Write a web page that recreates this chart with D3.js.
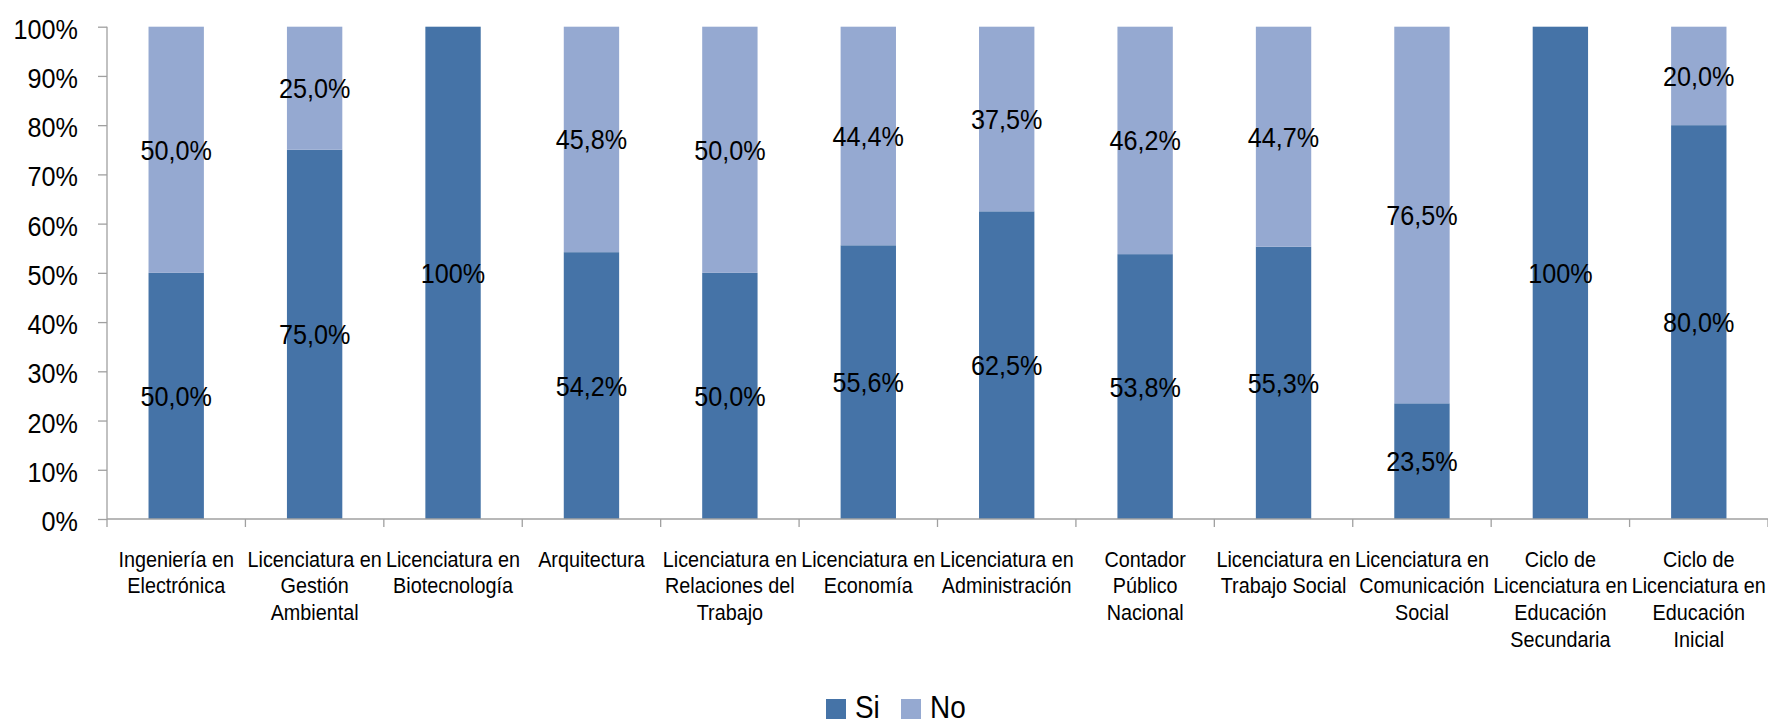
<!DOCTYPE html>
<html>
<head>
<meta charset="utf-8">
<script src="https://cdn.jsdelivr.net/npm/d3@7"></script>
<style>
  html, body { margin: 0; padding: 0; background: #fff; }
  svg { display: block; }
  text { font-family: "Liberation Sans", Arial, sans-serif; fill: #000; }
</style>
</head>
<body>
<svg id="chart" width="1768" height="725"></svg>
<script>
const categories = [
  "Ingeniería en\nElectrónica",
  "Licenciatura en\nGestión\nAmbiental",
  "Licenciatura en\nBiotecnología",
  "Arquitectura",
  "Licenciatura en\nRelaciones del\nTrabajo",
  "Licenciatura en\nEconomía",
  "Licenciatura en\nAdministración",
  "Contador\nPúblico\nNacional",
  "Licenciatura en\nTrabajo Social",
  "Licenciatura en\nComunicación\nSocial",
  "Ciclo de\nLicenciatura en\nEducación\nSecundaria",
  "Ciclo de\nLicenciatura en\nEducación\nInicial"
];
const siValues = [50.0, 75.0, 100, 54.2, 50.0, 55.6, 62.5, 53.8, 55.3, 23.5, 100, 80.0];
const noValues = [50.0, 25.0, 0, 45.8, 50.0, 44.4, 37.5, 46.2, 44.7, 76.5, 0, 20.0];
const seriesNames = ["Si", "No"];
const yTicks = [0, 10, 20, 30, 40, 50, 60, 70, 80, 90, 100];

const colors = { Si: "#4573A7", No: "#95A9D1" };
const SX = 0.9; // horizontal condensing of the text face

const svg = d3.select("#chart");
const x = d3.scaleBand().domain(categories).range([107, 1768]).padding(0);
const y = d3.scaleLinear().domain([0, 100]).range([519, 26.7]);
const barW = x.bandwidth() * 0.4;

const fmt = v => v === 100 ? "100%" : v.toFixed(1).replace(".", ",") + "%";

// stacked data
const rows = categories.map((c, i) => ({ cat: c, Si: siValues[i], No: noValues[i] }));
const stack = d3.stack().keys(seriesNames)(rows);

// bars
const gBars = svg.append("g");
stack.forEach(layer => {
  gBars.selectAll(null).data(layer).join("rect")
    .attr("x", d => x(d.data.cat) + (x.bandwidth() - barW) / 2)
    .attr("width", barW)
    .attr("y", d => y(d[1]))
    .attr("height", d => y(d[0]) - y(d[1]))
    .attr("fill", colors[layer.key]);
});

// data labels
const gLab = svg.append("g");
stack.forEach(layer => {
  gLab.selectAll(null).data(layer.filter(d => d[1] - d[0] > 0)).join("text")
    .attr("transform", d => `translate(${x(d.data.cat) + x.bandwidth() / 2},${(y(d[0]) + y(d[1])) / 2 + 10}) scale(${SX},1)`)
    .attr("text-anchor", "middle")
    .style("font-size", "28px")
    .text(d => fmt(d[1] - d[0]));
});

// y axis
const yAxis = d3.axisLeft(y).tickValues(yTicks).tickSize(9).tickFormat(d => d + "%");
const gy = svg.append("g").attr("transform", "translate(107,0)").call(yAxis);
gy.select(".domain").attr("stroke", "#a0a0a0").attr("stroke-width", 1.3).attr("d", `M0,${y(100)}V${y(0)}`);
gy.selectAll(".tick line").attr("stroke", "#a0a0a0").attr("stroke-width", 1.3);
gy.selectAll(".tick text")
  .attr("x", null).attr("dy", null)
  .attr("transform", `translate(-29,11.5) scale(${SX},1)`)
  .attr("text-anchor", "end")
  .style("font-size", "28px")
  .style("font-family", '"Liberation Sans", Arial, sans-serif')
  .attr("fill", "#000");

// x axis line + boundary ticks
const gx = svg.append("g");
gx.append("line").attr("x1", 107).attr("x2", 1768).attr("y1", y(0)).attr("y2", y(0))
  .attr("stroke", "#a0a0a0").attr("stroke-width", 1.3);
const bounds = categories.map(c => x(c)).concat([x.range()[1]]);
gx.selectAll(null).data(bounds).join("line")
  .attr("x1", d => d).attr("x2", d => d)
  .attr("y1", y(0)).attr("y2", y(0) + 8)
  .attr("stroke", "#a0a0a0").attr("stroke-width", 1.3);

// category labels
const gCat = svg.append("g");
categories.forEach(c => {
  const t = gCat.append("text")
    .attr("transform", `translate(${x(c) + x.bandwidth() / 2},566.5) scale(${SX},1)`)
    .attr("text-anchor", "middle")
    .style("font-size", "22px");
  c.split("\n").forEach((line, i) => {
    t.append("tspan").attr("x", 0).attr("y", i * 27).text(line);
  });
});

// legend
const legend = svg.append("g");
const legendPos = [{ sq: 826, tx: 855 }, { sq: 901, tx: 930 }];
seriesNames.forEach((s, i) => {
  legend.append("rect").attr("x", legendPos[i].sq).attr("y", 699).attr("width", 20).attr("height", 20).attr("fill", colors[s]);
  legend.append("text")
    .attr("transform", `translate(${legendPos[i].tx},718) scale(${SX},1)`)
    .style("font-size", "31px")
    .text(s);
});
</script>
</body>
</html>
